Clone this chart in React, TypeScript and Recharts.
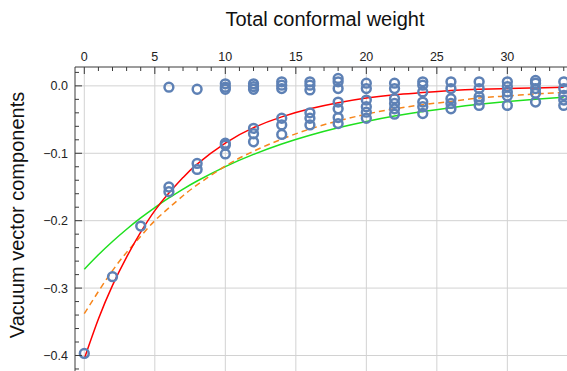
import { ComposedChart, Line, Scatter, XAxis, YAxis, ReferenceLine } from "recharts";

const FONT = "'Liberation Sans', Arial, sans-serif";
const AXIS = "#3a3a3a";
const GRID = "#d2d2d2";
const POINT = "#5e81b5";

// total conformal weight of each group of points
const WEIGHTS = [0, 2, 4, 6, 8, 10, 12, 14, 16, 18, 20, 22, 24, 26, 28, 30, 32, 34];

// vacuum vector components read at each weight
const COMPONENTS = [
  [-0.397],
  [-0.283],
  [-0.208],
  [-0.002, -0.15, -0.157],
  [-0.005, -0.115, -0.124],
  [0.003, -0.002, -0.005, -0.085, -0.088, -0.101],
  [0.003, -0.001, -0.005, -0.063, -0.071, -0.083],
  [0.006, 0.001, -0.004, -0.048, -0.058, -0.072],
  [0.006, 0.001, -0.006, -0.04, -0.048, -0.058],
  [0.011, 0.006, -0.004, -0.024, -0.034, -0.047, -0.056],
  [0.004, -0.004, -0.021, -0.031, -0.039, -0.048],
  [0.004, -0.004, -0.019, -0.026, -0.034, -0.042],
  [0.006, 0.001, -0.009, -0.024, -0.031, -0.041],
  [0.006, -0.004, -0.019, -0.026, -0.034],
  [0.006, -0.004, -0.016, -0.021, -0.029],
  [0.006, -0.001, -0.009, -0.015, -0.029],
  [0.008, 0.004, -0.004, -0.011, -0.024],
  [0.006, -0.004, -0.014, -0.021, -0.029],
];

// fitted curves
const CURVE_X = [0, 1, 2, 3, 4, 5, 6, 7, 8, 10, 12, 14, 16, 18, 20, 22, 24, 26, 28, 30, 32, 34];
const RED_FIT = [-0.405, -0.346, -0.296, -0.254, -0.217, -0.185, -0.159, -0.136, -0.116, -0.085, -0.062, -0.046, -0.034, -0.025, -0.018, -0.013, -0.01, -0.007, -0.005, -0.004, -0.003, -0.002];
const ORANGE_FIT = [-0.338, -0.305, -0.274, -0.247, -0.223, -0.2, -0.181, -0.163, -0.147, -0.119, -0.097, -0.079, -0.064, -0.052, -0.042, -0.034, -0.028, -0.023, -0.018, -0.015, -0.012, -0.01];
const GREEN_FIT = [-0.272, -0.2506, -0.2309, -0.2127, -0.1959, -0.1805, -0.1663, -0.1532, -0.1411, -0.1198, -0.1017, -0.0863, -0.0733, -0.0622, -0.0528, -0.0448, -0.038, -0.0323, -0.0274, -0.0233, -0.0198, -0.0168];

const X_TICKS = [0, 1, 2, 3, 4, 5, 6, 7, 8, 9, 10, 11, 12, 13, 14, 15, 16, 17, 18, 19, 20, 21, 22, 23, 24, 25, 26, 27, 28, 29, 30, 31, 32, 33, 34];
const X_MAJOR = [0, 5, 10, 15, 20, 25, 30];
const Y_TICKS = [0.02, 0, -0.02, -0.04, -0.06, -0.08, -0.1, -0.12, -0.14, -0.16, -0.18, -0.2, -0.22, -0.24, -0.26, -0.28, -0.3, -0.32, -0.34, -0.36, -0.38, -0.4, -0.42];
const Y_MAJOR = [0, -0.1, -0.2, -0.3, -0.4];

const points = WEIGHTS.flatMap((w, i) => COMPONENTS[i].map((y) => ({ x: w, y })));
const curve = (ys: number[]) => CURVE_X.map((x, i) => ({ x, y: ys[i] }));

const isMajorY = (v: number) => Y_MAJOR.some((m) => Math.abs(m - v) < 1e-9);

const TopTick = (props: any) => {
  const { x, y, payload } = props;
  const v = payload.value;
  const major = X_MAJOR.includes(v);
  return (
    <g>
      <line x1={x} x2={x} y1={y} y2={y + (major ? 7 : 4)} stroke={AXIS} strokeWidth={1} />
      {major && (
        <text x={x} y={y - 6} textAnchor="middle" fontSize={12.5} fontFamily={FONT} fill="#222">
          {v}
        </text>
      )}
    </g>
  );
};

const LeftTick = (props: any) => {
  const { x, y, payload } = props;
  const v = payload.value;
  const major = isMajorY(v);
  return (
    <g>
      <line x1={x} x2={x + (major ? 7 : 4)} y1={y} y2={y} stroke={AXIS} strokeWidth={1} />
      {major && (
        <text x={x - 7} y={y + 4.5} textAnchor="end" fontSize={12.5} fontFamily={FONT} fill="#222">
          {v === 0 ? "0.0" : "\u2212" + Math.abs(v).toFixed(1)}
        </text>
      )}
    </g>
  );
};

const Ring = (props: any) => (
  <circle cx={props.cx} cy={props.cy} r={4.4} fill="none" stroke={POINT} strokeWidth={2.5} />
);

export default function App() {
  return (
    <div style={{ position: "absolute", left: 0, top: 0, width: 567, height: 371, background: "#fff" }}>
      <div
        style={{
          position: "absolute",
          left: 0,
          width: 650,
          top: 7,
          textAlign: "center",
          fontFamily: FONT,
          fontSize: 20,
          color: "#111",
          lineHeight: "24px",
        }}
      >
        Total conformal weight
      </div>
      <div
        style={{
          position: "absolute",
          left: 17,
          top: 215,
          transform: "translate(-50%, -50%) rotate(-90deg)",
          whiteSpace: "nowrap",
          fontFamily: FONT,
          fontSize: 20,
          color: "#111",
          lineHeight: "24px",
        }}
      >
        Vacuum vector components
      </div>
      <ComposedChart width={567} height={371} margin={{ top: 0, right: 0, bottom: 0, left: 0 }}>
        <XAxis
          type="number"
          dataKey="x"
          orientation="top"
          height={67}
          domain={[-0.66, 34.23]}
          allowDataOverflow
          ticks={X_TICKS}
          interval={0}
          tickSize={0}
          tickMargin={0}
          tickLine={false}
          tick={<TopTick />}
          axisLine={{ stroke: AXIS }}
        />
        <YAxis
          type="number"
          dataKey="y"
          width={75}
          domain={[-0.423, 0.028]}
          allowDataOverflow
          ticks={Y_TICKS}
          interval={0}
          tickSize={0}
          tickMargin={0}
          tickLine={false}
          tick={<LeftTick />}
          axisLine={{ stroke: AXIS }}
        />
        {X_MAJOR.map((v) => (
          <ReferenceLine key={"gx" + v} x={v} stroke={GRID} strokeWidth={1} />
        ))}
        {Y_MAJOR.map((v) => (
          <ReferenceLine key={"gy" + v} y={v} stroke={GRID} strokeWidth={1} />
        ))}
        <Scatter data={points} shape={<Ring />} isAnimationActive={false} />
        <Line data={curve(GREEN_FIT)} dataKey="y" type="natural" stroke="#1fe01f" strokeWidth={1.5} dot={false} activeDot={false} isAnimationActive={false} />
        <Line data={curve(ORANGE_FIT)} dataKey="y" type="natural" stroke="#f7861c" strokeWidth={1.5} strokeDasharray="6 4" dot={false} activeDot={false} isAnimationActive={false} />
        <Line data={curve(RED_FIT)} dataKey="y" type="natural" stroke="#ff0000" strokeWidth={1.5} dot={false} activeDot={false} isAnimationActive={false} />
      </ComposedChart>
    </div>
  );
}
